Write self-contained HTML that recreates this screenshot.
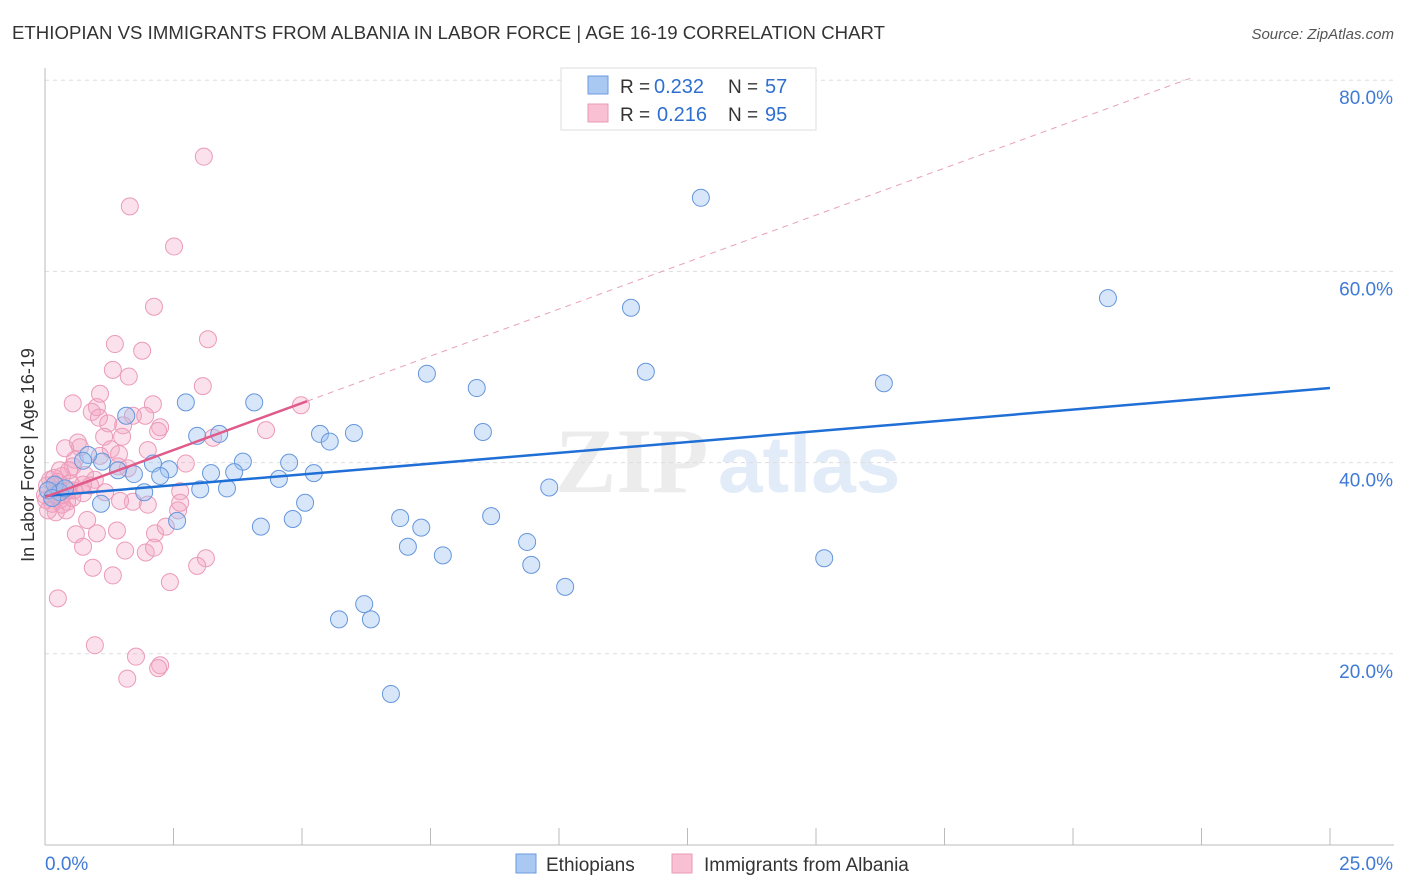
<!DOCTYPE html>
<html><head><meta charset="utf-8"><style>
body{margin:0;background:#fff;font-family:"Liberation Sans",sans-serif;}
svg{display:block}
</style></head><body>
<svg id="chart" width="1406" height="892">
<text x="12" y="39" font-size="18.6" fill="#333" textLength="873">ETHIOPIAN VS IMMIGRANTS FROM ALBANIA IN LABOR FORCE | AGE 16-19 CORRELATION CHART</text>
<text x="1394" y="39" font-size="15" font-style="italic" fill="#555" text-anchor="end">Source: ZipAtlas.com</text>
<g><text x="555" y="492" font-size="92" font-family="Liberation Serif" fill="#ececec" font-weight="bold">ZIP</text><text x="718" y="492" font-size="80" fill="#e2ecf8" font-weight="bold">atlas</text></g>
<g id="grid"></g>
<g id="axes"></g>
<g id="marks"></g>
<g id="trends"></g>
<text x="-455" y="34" transform="rotate(-90)" font-size="18" fill="#333" text-anchor="middle">In Labor Force | Age 16-19</text>
<g>
<rect x="561" y="68" width="255" height="62" fill="#fff" stroke="#ddd"/>
<rect x="588" y="76" width="20" height="18" fill="#a9c9f2" stroke="#6b9be0"/>
<rect x="588" y="104" width="20" height="18" fill="#f8c0d2" stroke="#ea9ab5"/>
<text x="620" y="93" font-size="19" fill="#333">R =</text><text x="654" y="93" font-size="20" fill="#2f6fd0">0.232</text>
<text x="728" y="93" font-size="19" fill="#333">N =</text><text x="765" y="93" font-size="20" fill="#2f6fd0">57</text>
<text x="620" y="121" font-size="19" fill="#333">R =</text><text x="657" y="121" font-size="20" fill="#2f6fd0">0.216</text>
<text x="728" y="121" font-size="19" fill="#333">N =</text><text x="765" y="121" font-size="20" fill="#2f6fd0">95</text>
</g>
<g>
<rect x="516" y="854" width="20" height="19" fill="#a9c9f2" stroke="#6b9be0"/>
<text x="546" y="871" font-size="19" fill="#333">Ethiopians</text>
<rect x="672" y="854" width="20" height="19" fill="#f8c0d2" stroke="#ea9ab5"/>
<text x="704" y="871" font-size="19" fill="#333">Immigrants from Albania</text>
</g>
</svg>
<script>
const yTicks=[20,40,60,80];
const yTickLabels=["20.0%","40.0%","60.0%","80.0%"];
const xTickCount=10;
const xEndLabels=["0.0%","25.0%"];
const blueX=[12.76,20.68,11.40,11.69,16.32,7.43,8.40,8.52,4.07,2.74,1.58,3.39,2.96,5.35,6.01,5.54,3.85,4.75,5.23,4.55,3.23,3.68,2.41,2.10,2.24,1.73,1.42,1.11,0.84,0.74,3.02,3.54,1.93,1.09,5.06,4.82,4.20,2.57,6.91,7.32,8.68,9.81,7.06,7.74,9.38,9.46,10.12,15.16,6.21,5.72,6.34,6.73,0.19,0.29,0.06,0.39,0.14];
const blueY=[67.7,57.2,56.2,49.5,48.3,49.3,47.8,43.2,46.3,46.3,44.9,43.0,42.8,43.0,43.1,42.2,40.1,40.0,38.9,38.3,38.9,39.0,39.3,39.9,38.6,38.8,39.2,40.1,40.8,40.2,37.2,37.3,36.9,35.7,35.8,34.1,33.3,33.9,34.2,33.2,34.4,37.4,31.2,30.3,31.7,29.3,27.0,30.0,25.2,23.6,23.6,15.8,37.7,36.9,37.1,37.3,36.3];
const pinkX=[3.09,1.65,2.51,2.12,3.17,1.36,1.89,1.32,1.63,3.07,1.07,0.54,1.71,2.10,1.95,1.01,0.91,1.05,1.23,0.64,0.68,0.39,1.52,1.50,2.24,2.20,3.27,4.30,4.98,1.15,1.28,1.44,0.58,0.54,0.47,0.78,1.07,1.42,1.61,2.00,2.74,0.97,1.17,0.74,0.88,0.33,0.25,0.49,0.21,0.29,0.14,0.43,0.21,2.00,1.71,2.63,1.46,0.82,1.40,0.60,1.01,2.14,2.35,2.59,0.74,1.56,1.96,2.12,0.93,3.13,2.96,1.32,2.43,0.25,0.97,1.77,2.24,2.20,1.60,2.63,0.0,0.04,0.10,0.35,0.53,0.41,0.18,0.29,0.45,0.02,0.06,0.19,0.33,0.56,0.74];
const pinkY=[72.0,66.8,62.6,56.3,52.9,52.4,51.7,49.7,49.0,48.0,47.2,46.2,44.9,46.1,44.9,45.8,45.3,44.7,44.1,42.1,41.6,41.5,43.9,42.7,43.7,43.3,42.6,43.4,46.0,42.7,41.4,40.9,40.3,39.6,39.2,38.7,40.7,39.6,39.4,41.3,39.9,38.2,36.9,36.8,37.6,38.6,38.0,37.8,37.1,36.1,35.7,35.9,34.8,35.6,35.9,37.0,36.0,34.0,32.9,32.5,32.6,32.6,33.3,35.0,31.2,30.8,30.6,31.1,29.0,30.0,29.2,28.2,27.5,25.8,20.9,19.7,18.8,18.5,17.4,35.8,36.6,37.6,38.2,36.6,36.3,35.0,38.4,39.2,37.1,36.1,35.0,36.7,35.6,37.1,37.7];
const blueTrend=[36.5,47.8];
const pinkTrend=[36.4,1.966];
const NS="http://www.w3.org/2000/svg";
const X0=45,X1=1330,Y0=845,PXY=9.56;
const sx=v=>X0+v*(X1-X0)/25, sy=v=>Y0-v*PXY;
function mk(tag,attrs,parent){const e=document.createElementNS(NS,tag);for(const k in attrs)e.setAttribute(k,attrs[k]);document.getElementById(parent).appendChild(e);return e;}
yTicks.forEach((t,i)=>{
 const l=mk('line',{x1:X0,x2:1394,y1:sy(t),y2:sy(t),stroke:'#ddd','stroke-dasharray':'4,4'},'grid');
 
 
 const tx=mk('text',{x:1393,y:sy(t)+24,'font-size':19,fill:'#3f7ad6','text-anchor':'end'},'grid');
 tx.textContent=yTickLabels[i];
 
 
});
const ya=mk('line',{x1:X0,x2:X0,y1:68,y2:Y0,stroke:'#bbb'},'axes');


const xa=mk('line',{x1:X0,x2:1394,y1:Y0,y2:Y0,stroke:'#bbb'},'axes');


for(let i=0;i<=xTickCount;i++){
 const xv=i*25/xTickCount;
 const tk=mk('line',{x1:sx(xv),x2:sx(xv),y1:828,y2:Y0,stroke:'#bbb'},'axes');
 
 
}
const xl0=mk('text',{x:45,y:870,'font-size':19,fill:'#3f7ad6'},'axes');xl0.textContent=xEndLabels[0];


const xl1=mk('text',{x:1393,y:870,'font-size':19,fill:'#3f7ad6','text-anchor':'end'},'axes');xl1.textContent=xEndLabels[1];


pinkX.forEach((v,i)=>{
 const c=mk('circle',{cx:sx(v),cy:sy(pinkY[i]),r:8.5,fill:'rgba(244,165,195,0.33)',stroke:'#eb9ab8','stroke-width':1},'marks');
 
 
});
blueX.forEach((v,i)=>{
 const c=mk('circle',{cx:sx(v),cy:sy(blueY[i]),r:8.5,fill:'rgba(155,193,240,0.4)',stroke:'#6696dc','stroke-width':1},'marks');
 
 
});
const bt=mk('line',{x1:sx(0),y1:sy(blueTrend[0]),x2:sx(25),y2:sy(blueTrend[1]),stroke:'#1f6fd6','stroke-width':2.5},'trends');


const pEnd=(80.2-pinkTrend[0])/pinkTrend[1];
const pd=mk('line',{x1:sx(5.1),y1:sy(pinkTrend[0]+pinkTrend[1]*5.1),x2:sx(pEnd),y2:sy(80.2),stroke:'#e8a0b8','stroke-width':1,'stroke-dasharray':'6,5'},'trends');


const pt=mk('line',{x1:sx(0),y1:sy(pinkTrend[0]),x2:sx(5.1),y2:sy(pinkTrend[0]+pinkTrend[1]*5.1),stroke:'#e05a8a','stroke-width':2.5},'trends');


</script>
</body></html>
